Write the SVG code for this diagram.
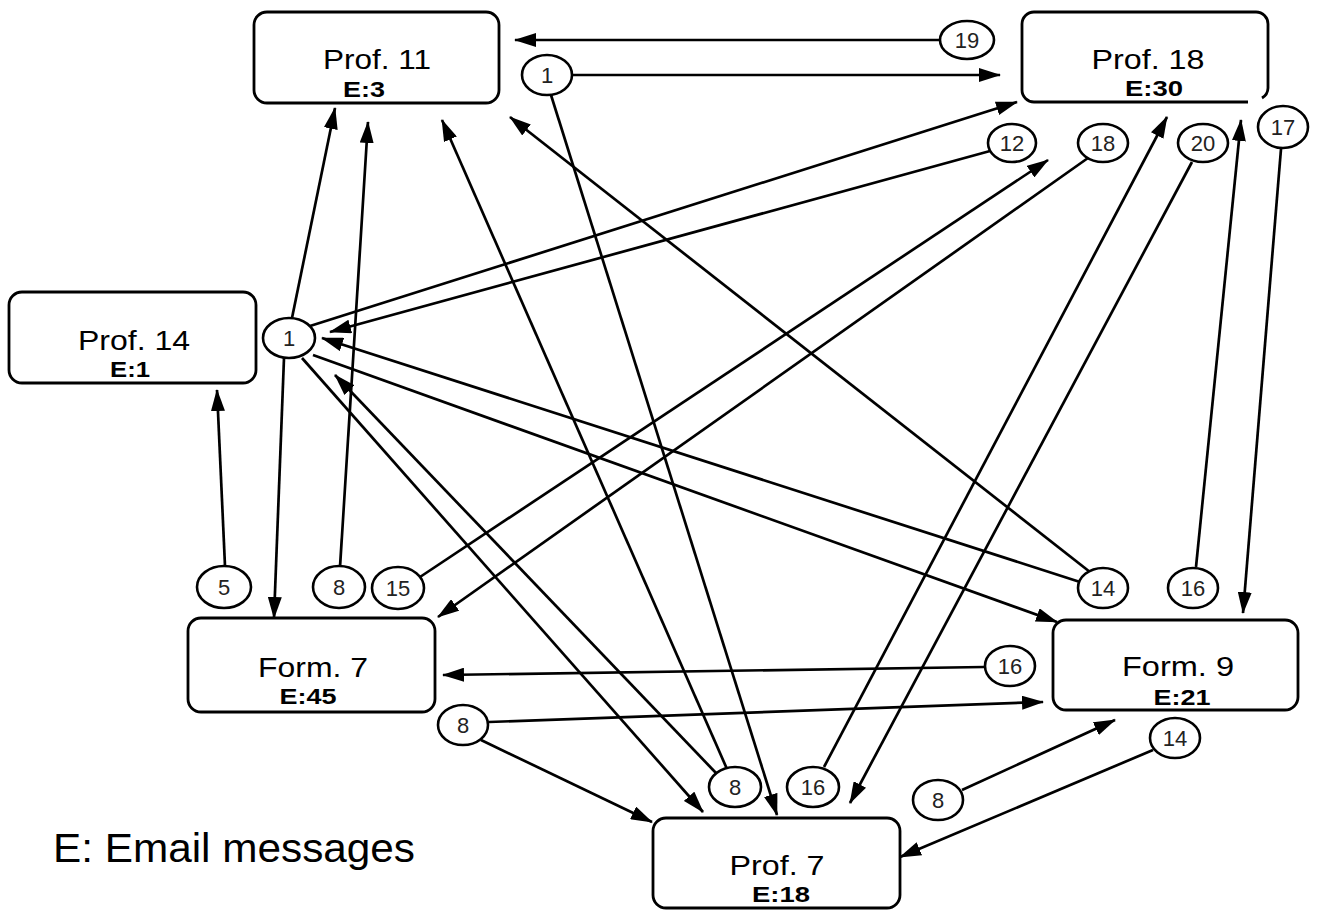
<svg xmlns="http://www.w3.org/2000/svg" width="1317" height="911" viewBox="0 0 1317 911">
<style>
.box{fill:#fff;stroke:#000;stroke-width:2.8}
.t{font-family:"Liberation Sans",Arial,sans-serif;font-size:28px;fill:#000;text-anchor:middle}
.e{font-family:"Liberation Sans",Arial,sans-serif;font-size:22px;font-weight:bold;fill:#000;text-anchor:middle}
.c{fill:#fff;stroke:#000;stroke-width:2.6}
.n{font-family:"Liberation Sans",Arial,sans-serif;font-size:22px;fill:#222;text-anchor:middle}
.l{stroke:#000;stroke-width:2.7;fill:none}
.a{marker-end:url(#ah)}
.lg{font-family:"Liberation Sans",Arial,sans-serif;font-size:40px;fill:#000}
</style>
<defs>
<marker id="ah" viewBox="0 0 22 14" refX="21" refY="7" markerWidth="22" markerHeight="14" markerUnits="userSpaceOnUse" orient="auto">
<path d="M0,0 L22,7 L0,14 z" fill="#000"/>
</marker>
</defs>
<rect width="1317" height="911" fill="#fff"/>

<g id="connectors">
<line class="l a" x1="940" y1="40" x2="515" y2="40"/>
<line class="l a" x1="573" y1="75" x2="1000" y2="75"/>
<line class="l a" x1="551" y1="95" x2="777" y2="815"/>
<line class="l a" x1="292" y1="318" x2="335" y2="108"/>
<line class="l a" x1="340" y1="567" x2="368" y2="122"/>
<line class="l a" x1="727" y1="769" x2="442" y2="120"/>
<line class="l a" x1="1090" y1="572" x2="510" y2="117"/>
<line class="l a" x1="310" y1="326" x2="1017" y2="102"/>
<line class="l a" x1="990" y1="151" x2="330" y2="332"/>
<line class="l a" x1="1080" y1="582" x2="322" y2="338"/>
<line class="l a" x1="716" y1="773" x2="335" y2="375"/>
<line class="l a" x1="313" y1="355" x2="1057" y2="622"/>
<line class="l a" x1="302" y1="358" x2="703" y2="812"/>
<line class="l a" x1="284" y1="358" x2="274" y2="618"/>
<line class="l a" x1="225" y1="566" x2="217" y2="390"/>
<line class="l a" x1="420" y1="577" x2="1048" y2="160"/>
<line class="l a" x1="1088" y1="158" x2="438" y2="617"/>
<line class="l a" x1="824" y1="767" x2="1167" y2="117"/>
<line class="l a" x1="1192" y1="162" x2="850" y2="803"/>
<line class="l a" x1="1196" y1="567" x2="1241" y2="120"/>
<line class="l a" x1="1281" y1="149" x2="1243" y2="613"/>
<line class="l a" x1="984" y1="667" x2="443" y2="675"/>
<line class="l a" x1="489" y1="722" x2="1043" y2="702"/>
<line class="l a" x1="481" y1="740" x2="652" y2="822"/>
<line class="l a" x1="962" y1="790" x2="1115" y2="720"/>
<line class="l a" x1="1153" y1="750" x2="900" y2="857"/>
</g>

<g id="prof11">
<rect class="box" x="254" y="12" width="245" height="91" rx="13"/>
<text class="t" x="377" y="69" textLength="108" lengthAdjust="spacingAndGlyphs">Prof. 11</text>
<text class="e" x="364" y="97" textLength="42" lengthAdjust="spacingAndGlyphs">E:3</text>
</g>
<g id="prof18">
<path class="box" d="M1248,102 L1034,102 A12,12 0 0 1 1022,90 L1022,24 A12,12 0 0 1 1034,12 L1256,12 A12,12 0 0 1 1268,24 L1268,88 A12,12 0 0 1 1262,98"/>
<text class="t" x="1148" y="69" textLength="113" lengthAdjust="spacingAndGlyphs">Prof. 18</text>
<text class="e" x="1154" y="96" textLength="58" lengthAdjust="spacingAndGlyphs">E:30</text>
</g>
<g id="prof14">
<rect class="box" x="9" y="292" width="247" height="91" rx="13"/>
<text class="t" x="134" y="350" textLength="112" lengthAdjust="spacingAndGlyphs">Prof. 14</text>
<text class="e" x="130" y="377" textLength="40" lengthAdjust="spacingAndGlyphs">E:1</text>
</g>
<g id="form7">
<rect class="box" x="188" y="618" width="247" height="94" rx="13"/>
<text class="t" x="313" y="677" textLength="110" lengthAdjust="spacingAndGlyphs">Form. 7</text>
<text class="e" x="308" y="704" textLength="57" lengthAdjust="spacingAndGlyphs">E:45</text>
</g>
<g id="form9">
<rect class="box" x="1053" y="620" width="245" height="90" rx="13"/>
<text class="t" x="1178" y="676" textLength="112" lengthAdjust="spacingAndGlyphs">Form. 9</text>
<text class="e" x="1182" y="705" textLength="57" lengthAdjust="spacingAndGlyphs">E:21</text>
</g>
<g id="prof7">
<rect class="box" x="653" y="818" width="247" height="90" rx="13"/>
<text class="t" x="777" y="875" textLength="95" lengthAdjust="spacingAndGlyphs">Prof. 7</text>
<text class="e" x="781" y="902" textLength="58" lengthAdjust="spacingAndGlyphs">E:18</text>
</g>

<g id="c19"><ellipse class="c" cx="967" cy="40" rx="27" ry="19"/><text class="n" x="967" y="48">19</text></g>
<g id="c1top"><ellipse class="c" cx="547" cy="75" rx="25" ry="20"/><text class="n" x="547" y="83">1</text></g>
<g id="c12"><ellipse class="c" cx="1012" cy="143" rx="24" ry="19"/><text class="n" x="1012" y="151">12</text></g>
<g id="c18"><ellipse class="c" cx="1103" cy="143" rx="25" ry="19"/><text class="n" x="1103" y="151">18</text></g>
<g id="c20"><ellipse class="c" cx="1203" cy="143" rx="25" ry="19"/><text class="n" x="1203" y="151">20</text></g>
<g id="c17"><ellipse class="c" cx="1283" cy="127" rx="25" ry="21"/><text class="n" x="1283" y="135">17</text></g>
<g id="c1mid"><ellipse class="c" cx="289" cy="338" rx="26" ry="20"/><text class="n" x="289" y="346">1</text></g>
<g id="c5"><ellipse class="c" cx="224" cy="587" rx="27" ry="21"/><text class="n" x="224" y="595">5</text></g>
<g id="c8a"><ellipse class="c" cx="339" cy="587" rx="26" ry="21"/><text class="n" x="339" y="595">8</text></g>
<g id="c15"><ellipse class="c" cx="398" cy="588" rx="26" ry="21"/><text class="n" x="398" y="596">15</text></g>
<g id="c14a"><ellipse class="c" cx="1103" cy="588" rx="25" ry="20"/><text class="n" x="1103" y="596">14</text></g>
<g id="c16a"><ellipse class="c" cx="1193" cy="588" rx="25" ry="20"/><text class="n" x="1193" y="596">16</text></g>
<g id="c16b"><ellipse class="c" cx="1010" cy="666" rx="25" ry="20"/><text class="n" x="1010" y="674">16</text></g>
<g id="c8b"><ellipse class="c" cx="463" cy="725" rx="25" ry="20"/><text class="n" x="463" y="733">8</text></g>
<g id="c8c"><ellipse class="c" cx="735" cy="787" rx="26" ry="20"/><text class="n" x="735" y="795">8</text></g>
<g id="c16c"><ellipse class="c" cx="813" cy="787" rx="26" ry="20"/><text class="n" x="813" y="795">16</text></g>
<g id="c8d"><ellipse class="c" cx="938" cy="800" rx="25" ry="20"/><text class="n" x="938" y="808">8</text></g>
<g id="c14b"><ellipse class="c" cx="1175" cy="738" rx="25" ry="20"/><text class="n" x="1175" y="746">14</text></g>

<text class="lg" x="53" y="862" textLength="362" lengthAdjust="spacingAndGlyphs">E: Email messages</text>
</svg>
